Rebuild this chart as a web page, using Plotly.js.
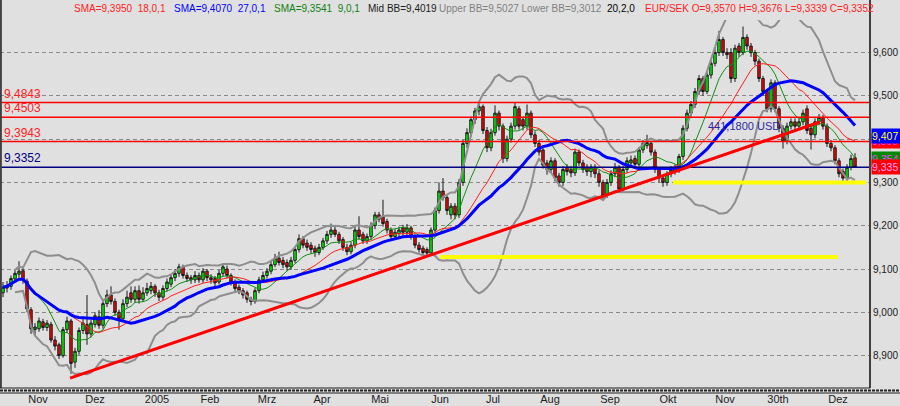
<!DOCTYPE html>
<html><head><meta charset="utf-8">
<script src="https://cdn.plot.ly/plotly-3.0.1.min.js"></script>
<style>html,body{margin:0;padding:0;background:#e0e0e0;}#chart{width:900px;height:406px;}</style>
</head><body><div id="chart"></div>
<script>
// ---- data (EUR/SEK candles) ----
const openP = [
9.045,9.056,9.060,9.077,9.088,9.096,9.072,9.006,8.960,8.962,
8.978,8.965,8.972,8.936,8.925,8.900,8.960,8.980,8.885,8.910,
8.958,8.972,8.950,8.972,8.990,8.970,9.020,9.040,9.025,9.000,
8.985,9.020,9.045,9.030,9.050,9.030,9.045,9.050,9.060,9.045,
9.035,9.055,9.065,9.080,9.090,9.105,9.085,9.080,9.075,9.085,
9.075,9.095,9.080,9.078,9.070,9.090,9.100,9.085,9.070,9.058,
9.050,9.045,9.030,9.025,9.050,9.075,9.085,9.095,9.110,9.125,
9.120,9.115,9.105,9.120,9.145,9.170,9.160,9.155,9.148,9.138,
9.150,9.165,9.180,9.190,9.180,9.168,9.150,9.140,9.155,9.190,
9.180,9.165,9.175,9.200,9.225,9.220,9.210,9.190,9.175,9.182,
9.195,9.185,9.195,9.175,9.155,9.148,9.145,9.137,9.190,9.235,
9.280,9.265,9.225,9.245,9.225,9.300,9.390,9.415,9.445,9.465,
9.475,9.420,9.380,9.415,9.460,9.430,9.355,9.400,9.430,9.470,
9.445,9.430,9.460,9.410,9.390,9.375,9.345,9.330,9.350,9.315,
9.300,9.335,9.330,9.322,9.370,9.345,9.335,9.325,9.335,9.320,
9.300,9.270,9.300,9.320,9.335,9.285,9.330,9.345,9.355,9.342,
9.375,9.385,9.390,9.370,9.330,9.310,9.300,9.320,9.325,9.330,
9.360,9.425,9.460,9.480,9.510,9.540,9.510,9.548,9.575,9.600,
9.630,9.600,9.600,9.540,9.615,9.600,9.635,9.615,9.600,9.580,
9.540,9.510,9.470,9.530,9.470,9.425,9.395,9.430,9.440,9.430,
9.440,9.470,9.425,9.410,9.440,9.450,9.430,9.390,9.380,9.350,
9.325,9.310,9.335,9.3570];
const highP = [
9.070,9.072,9.085,9.098,9.118,9.102,9.078,9.012,8.975,8.988,
8.985,8.982,8.978,8.945,8.930,8.966,8.990,8.985,8.918,8.965,
8.985,9.040,8.982,9.000,9.005,9.028,9.052,9.060,9.032,9.006,
9.030,9.050,9.060,9.060,9.062,9.058,9.068,9.070,9.065,9.052,
9.062,9.078,9.088,9.100,9.112,9.110,9.092,9.086,9.095,9.092,
9.102,9.100,9.088,9.084,9.098,9.112,9.108,9.090,9.076,9.064,
9.056,9.050,9.036,9.056,9.082,9.094,9.102,9.118,9.135,9.140,
9.128,9.122,9.128,9.152,9.180,9.176,9.168,9.162,9.154,9.158,
9.172,9.188,9.205,9.198,9.186,9.174,9.158,9.162,9.198,9.222,
9.186,9.182,9.208,9.232,9.232,9.260,9.216,9.196,9.192,9.198,
9.202,9.204,9.200,9.180,9.162,9.154,9.150,9.196,9.242,9.300,
9.310,9.270,9.252,9.252,9.308,9.398,9.425,9.452,9.472,9.482,
9.480,9.428,9.424,9.478,9.466,9.436,9.408,9.438,9.484,9.476,
9.452,9.480,9.466,9.418,9.398,9.382,9.352,9.358,9.356,9.322,
9.338,9.342,9.338,9.378,9.376,9.352,9.342,9.342,9.342,9.328,
9.306,9.308,9.328,9.345,9.340,9.338,9.358,9.362,9.362,9.382,
9.398,9.410,9.396,9.376,9.336,9.316,9.326,9.338,9.342,9.366,
9.432,9.468,9.488,9.518,9.548,9.546,9.556,9.582,9.610,9.650,
9.636,9.610,9.610,9.618,9.622,9.660,9.642,9.622,9.606,9.586,
9.546,9.516,9.538,9.536,9.476,9.432,9.438,9.448,9.448,9.448,
9.468,9.478,9.432,9.448,9.458,9.456,9.436,9.398,9.386,9.356,
9.332,9.342,9.364,9.3676];
const lowP = [
9.035,9.046,9.052,9.070,9.080,9.066,9.000,8.950,8.948,8.955,
8.958,8.957,8.930,8.912,8.892,8.895,8.952,8.858,8.872,8.902,
8.950,8.925,8.942,8.965,8.962,8.962,9.012,9.018,8.992,8.960,
8.978,9.012,9.022,9.022,9.020,9.024,9.038,9.042,9.036,9.026,
9.028,9.048,9.058,9.072,9.082,9.078,9.070,9.066,9.068,9.068,
9.068,9.072,9.066,9.060,9.064,9.084,9.078,9.062,9.048,9.042,
9.032,9.022,9.016,9.020,9.044,9.068,9.078,9.088,9.104,9.108,
9.102,9.096,9.098,9.114,9.138,9.148,9.142,9.136,9.128,9.132,
9.144,9.158,9.172,9.174,9.158,9.142,9.132,9.134,9.148,9.168,
9.158,9.158,9.168,9.192,9.208,9.198,9.182,9.168,9.168,9.174,
9.178,9.178,9.168,9.148,9.138,9.130,9.128,9.130,9.184,9.228,
9.258,9.225,9.215,9.215,9.218,9.292,9.380,9.405,9.435,9.455,
9.412,9.370,9.372,9.408,9.420,9.345,9.348,9.392,9.422,9.422,
9.420,9.422,9.402,9.382,9.362,9.332,9.318,9.322,9.302,9.290,
9.292,9.316,9.312,9.315,9.338,9.322,9.315,9.312,9.310,9.290,
9.262,9.264,9.292,9.312,9.278,9.278,9.322,9.338,9.335,9.336,
9.368,9.378,9.362,9.322,9.300,9.290,9.292,9.312,9.318,9.322,
9.352,9.418,9.452,9.472,9.502,9.500,9.504,9.540,9.568,9.592,
9.592,9.585,9.530,9.532,9.590,9.594,9.606,9.590,9.570,9.532,
9.500,9.462,9.462,9.462,9.416,9.378,9.388,9.422,9.422,9.422,
9.432,9.412,9.376,9.402,9.432,9.422,9.382,9.372,9.342,9.312,
9.300,9.302,9.328,9.3339];
const closeP = [
9.058,9.062,9.078,9.090,9.095,9.075,9.008,8.962,8.966,8.980,
8.965,8.975,8.936,8.922,8.900,8.960,8.980,8.882,8.910,8.958,
8.975,8.950,8.975,8.992,8.970,9.020,9.040,9.025,9.000,8.985,
9.020,9.035,9.030,9.050,9.030,9.045,9.055,9.060,9.045,9.035,
9.055,9.070,9.080,9.090,9.105,9.085,9.078,9.075,9.085,9.075,
9.095,9.080,9.075,9.068,9.090,9.105,9.085,9.070,9.055,9.050,
9.040,9.030,9.025,9.050,9.075,9.085,9.095,9.110,9.125,9.115,
9.110,9.105,9.120,9.145,9.170,9.155,9.150,9.145,9.138,9.150,
9.165,9.180,9.190,9.180,9.165,9.150,9.140,9.155,9.190,9.175,
9.165,9.175,9.200,9.225,9.215,9.205,9.190,9.175,9.185,9.190,
9.185,9.195,9.175,9.155,9.145,9.138,9.137,9.190,9.235,9.280,
9.265,9.235,9.245,9.225,9.300,9.390,9.415,9.445,9.465,9.475,
9.420,9.380,9.415,9.460,9.430,9.355,9.400,9.430,9.475,9.430,
9.430,9.460,9.410,9.390,9.370,9.340,9.330,9.350,9.310,9.300,
9.330,9.325,9.322,9.370,9.345,9.330,9.325,9.335,9.320,9.300,
9.270,9.300,9.320,9.335,9.285,9.330,9.350,9.352,9.342,9.375,
9.390,9.392,9.370,9.330,9.310,9.300,9.320,9.330,9.335,9.360,
9.425,9.460,9.480,9.510,9.540,9.510,9.548,9.575,9.600,9.630,
9.600,9.595,9.540,9.610,9.600,9.635,9.615,9.600,9.580,9.540,
9.510,9.470,9.530,9.470,9.425,9.395,9.430,9.440,9.430,9.440,
9.460,9.420,9.410,9.440,9.450,9.430,9.390,9.380,9.350,9.320,
9.310,9.335,9.355,9.3352];

const monthTickPos = [8.75, 23, 38.5, 51.75, 66, 79.75, 94.25, 109.25, 122.5, 136.75, 151.75, 166.25, 180.5, 193.75, 208.75];
const monthLabels = ['Nov','Dez','2005','Feb','Mrz','Apr','Mai','Jun','Jul','Aug','Sep','Okt','Nov','30th','Dez'];
const yTicks = [8.9, 9.0, 9.1, 9.2, 9.3, 9.4, 9.5, 9.6];

const levelValues = [9.4843, 9.4503, 9.3943];
const levelLabels = ['9,4843', '9,4503', '9,3943'];
const lastCloseValue = 9.3352;
const lastCloseLabel = '9,3352';

const trendX = [16.75, 204.25];
const trendY = [8.848, 9.4395];
const supportHighX = [167.5, 215.75];
const supportHighY = 9.300;
const supportLowX = [109.25, 208.75];
const supportLowY = 9.1277;

const noteText = '441,1800 USD';
const noteX = 185.25;
const noteY = 9.430;

const legendTexts = ['SMA=9,3950\u00a0\u00a018,0,1', 'SMA=9,4070\u00a0\u00a027,0,1', 'SMA=9,3541\u00a0\u00a09,0,1',
  'Mid BB=9,4019', 'Upper BB=9,5027 Lower BB=9,3012', '20,2,0', 'EUR/SEK O=9,3570 H=9,3676 L=9,3339 C=9,3352'];
const sideValues = [9.3950, 9.4070, 9.3541, 9.3352];

// ---- indicators (defined by the chart: SMA 18, 27, 9 and Bollinger 20,2) ----
function sma(arr, n) {
  return arr.map((_, i) => { const w = arr.slice(Math.max(0, i - n + 1), i + 1); return w.reduce((a, b) => a + b, 0) / w.length; });
}
function bands(arr, n, k) {
  const up = [], lo = [];
  arr.forEach((_, i) => {
    const w = arr.slice(Math.max(0, i - n + 1), i + 1);
    const m = w.reduce((a, b) => a + b, 0) / w.length;
    const sd = Math.sqrt(w.reduce((a, b) => a + (b - m) * (b - m), 0) / w.length);
    up.push(i < 3 ? null : m + k * sd); lo.push(i < 3 ? null : m - k * sd);
  });
  return [up, lo];
}
const idx = closeP.map((_, i) => i);
const sma18 = sma(closeP, 18), sma27 = sma(closeP, 27), sma9 = sma(closeP, 9);
const [bbUp, bbLo] = bands(closeP, 20, 2);

const FONT = 'Liberation Sans, Arial, sans-serif';
const traces = [
  {type:'scatter', mode:'lines', x:idx, y:bbUp, line:{color:'#8e8e8e', width:2}, hoverinfo:'skip'},
  {type:'scatter', mode:'lines', x:idx, y:bbLo, line:{color:'#8e8e8e', width:2}, hoverinfo:'skip'},
  {type:'candlestick', x:idx, open:openP, high:highP, low:lowP, close:closeP, whiskerwidth:0,
   increasing:{line:{color:'#1a1a1a', width:1}, fillcolor:'#00ff00'},
   decreasing:{line:{color:'#1a1a1a', width:1}, fillcolor:'#ff0000'}, hoverinfo:'skip'},
  {type:'scatter', mode:'lines', x:idx, y:sma9, line:{color:'#109010', width:1}, hoverinfo:'skip'},
  {type:'scatter', mode:'lines', x:idx, y:sma18, line:{color:'#ff2020', width:1}, hoverinfo:'skip'},
  {type:'scatter', mode:'lines', x:idx, y:sma27, line:{color:'#0000ff', width:3}, hoverinfo:'skip'}
];

const PW = 870, PH = 368; // plot area size in px
const shapes = [];
levelValues.forEach(v => shapes.push({type:'line', layer:'above', xref:'paper', x0:0, x1:1, yref:'y', y0:v, y1:v, line:{color:'#ff0000', width:1.5}}));
shapes.push({type:'line', layer:'above', xref:'paper', x0:0, x1:1, yref:'y', y0:lastCloseValue, y1:lastCloseValue, line:{color:'#000080', width:1.5}});
shapes.push({type:'line', layer:'above', xref:'x', yref:'y', x0:trendX[0], y0:trendY[0], x1:trendX[1], y1:trendY[1], line:{color:'#ff0000', width:3}});
shapes.push({type:'line', layer:'above', xref:'x', yref:'y', x0:supportHighX[0], x1:supportHighX[1], y0:supportHighY, y1:supportHighY, line:{color:'#ffff00', width:4}});
shapes.push({type:'line', layer:'above', xref:'x', yref:'y', x0:supportLowX[0], x1:supportLowX[1], y0:supportLowY, y1:supportLowY, line:{color:'#ffff00', width:4}});
// frame
shapes.push({type:'line', layer:'above', xref:'paper', yref:'paper', x0:0.001, x1:0.001, y0:0, y1:1 + 20/PH, line:{color:'#404040', width:2}});
shapes.push({type:'line', layer:'above', xref:'paper', yref:'paper', x0:1, x1:1, y0:0, y1:1 + 20/PH, line:{color:'#404040', width:2}});
shapes.push({type:'line', layer:'above', xref:'paper', yref:'paper', x0:0, x1:1, y0:0, y1:0, line:{color:'#202020', width:1}});
shapes.push({type:'line', layer:'above', xref:'paper', yref:'paper', x0:0, x1:900/PW, y0:-2.5/PH, y1:-2.5/PH, line:{color:'#202020', width:2, dash:'3px,1px'}});
shapes.push({type:'line', layer:'above', xref:'paper', yref:'paper', x0:0, x1:900/PW, y0:-5/PH, y1:-5/PH, line:{color:'#202020', width:1}});

const annotations = [];
levelValues.forEach((v, i) => annotations.push({xref:'paper', x:0, xshift:2, xanchor:'left', yref:'y', y:v, yanchor:'bottom',
  text:levelLabels[i], showarrow:false, font:{family:FONT, size:12, color:'#ff2020'}}));
annotations.push({xref:'paper', x:0, xshift:2, xanchor:'left', yref:'y', y:lastCloseValue, yanchor:'bottom',
  text:lastCloseLabel, showarrow:false, font:{family:FONT, size:12, color:'#000080'}});
annotations.push({xref:'x', yref:'y', x:noteX, y:noteY, text:noteText, showarrow:false, font:{family:FONT, size:11, color:'#2a2aa0'}});

const legendPx = [72, 172, 272, 366, 437, 605, 643];
const legendCol = ['#ff2020', '#0000ff', '#108010', '#202020', '#808080', '#000000', '#ff2020'];
legendTexts.forEach((t, i) => annotations.push({xref:'paper', x:legendPx[i]/PW, xanchor:'left', yref:'paper', y:1 + 11/PH, yanchor:'middle',
  text:t, showarrow:false, font:{family:FONT, size:10, color:legendCol[i]}}));

const sideBg = ['#ff0000', '#0000ff', '#008800', '#ff0000'];
const sideFg = ['#ff40ff', '#ffff00', '#ff40ff', '#ffa0ff'];
sideValues.forEach((v, i) => annotations.push({xref:'paper', x:1, xshift:1, xanchor:'left', yref:'y', y:v, yanchor:'middle',
  text:v.toFixed(3).replace('.', ','), showarrow:false, bgcolor:sideBg[i], width:29, height:14, borderpad:0, align:'left',
  font:{family:FONT, size:10.5, color:sideFg[i]}}));

const layout = {
  width:900, height:406, margin:{l:0, r:30, t:20, b:18},
  paper_bgcolor:'#e0e0e0', plot_bgcolor:'#e0e0e0', showlegend:false, separators:',.', boxgap:0.12,
  font:{family:FONT, color:'#202020'},
  xaxis:{type:'linear', range:[-0.75, 216.75], showgrid:false, zeroline:false, showline:false, ticks:'',
    tickvals:monthTickPos, ticktext:monthLabels, tickfont:{family:FONT, size:11, color:'#202020'},
    ticklabelstandoff:3, rangeslider:{visible:false}, fixedrange:true},
  yaxis:{side:'right', range:[8.8252, 9.6751], tickvals:yTicks, tickformat:'.3f', showgrid:true,
    gridcolor:'#8a8a8a', griddash:'4px,3px', gridwidth:1, zeroline:false, showline:false, ticks:'',
    ticklabelstandoff:2, tickfont:{family:FONT, size:10, color:'#202020'}, fixedrange:true},
  shapes, annotations
};
Plotly.newPlot('chart', traces, layout, {staticPlot:true, displayModeBar:false});
</script></body></html>
